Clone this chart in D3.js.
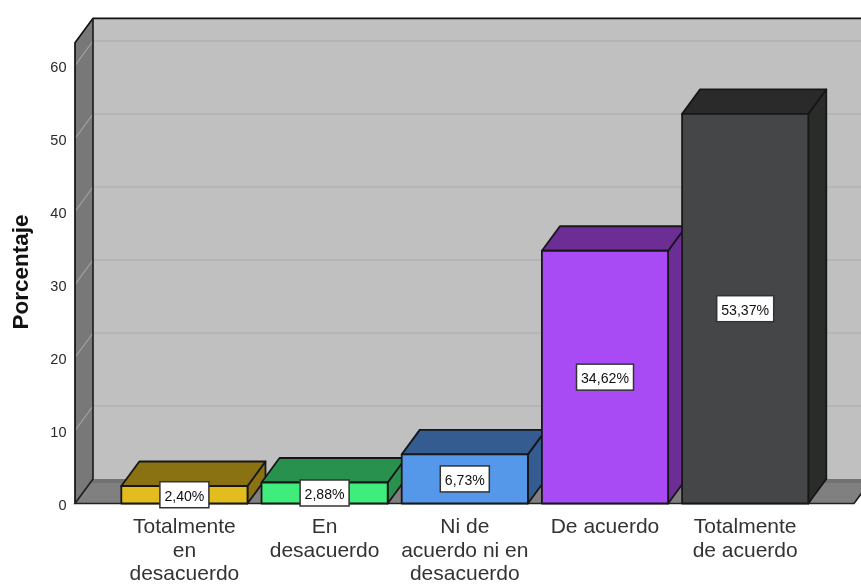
<!DOCTYPE html>
<html><head><meta charset="utf-8">
<style>html,body{margin:0;padding:0;background:#fff}svg{display:block;filter:blur(0.35px)}</style>
<script src="https://cdn.jsdelivr.net/npm/d3@7"></script></head>
<body><svg id="c" width="861" height="584"></svg>
<script>
const categories = [["Totalmente","en","desacuerdo"],["En","desacuerdo"],["Ni de","acuerdo ni en","desacuerdo"],["De acuerdo"],["Totalmente","de acuerdo"]];
const values = [2.40, 2.88, 6.73, 34.62, 53.37];
const valueLabels = ["2,40%","2,88%","6,73%","34,62%","53,37%"];
const tickValues = [0,10,20,30,40,50,60];
const frontColors = ["#e3bd1e","#40ec7c","#5597e8","#a94bf4","#454648"];
const topColors = ["#8a7213","#28914e","#345c90","#6c2d94","#2a2a2a"];
const sideColors = ["#8a7213","#28914e","#345c90","#6c2d94","#2a2c2a"];
const yTitle = "Porcentaje";

const svg = d3.select("#c");
const font = "'Liberation Sans', Arial, sans-serif";
const dx = 18, dy = -24.5;
const x0 = 75, x1 = 854, yMax = 63.1;
const y = d3.scaleLinear().domain([0,60]).range([503.5,65.5]);
const x = d3.scaleBand().domain(d3.range(values.length)).range([114.3,815.3]).paddingInner(0.1).paddingOuter(0.05);
const pts = a => a.map(p=>p.join(",")).join(" ");
const edge = "#17171a";

// back wall
svg.append("polygon").attr("points",pts([[x0+dx,y(yMax)+dy],[x1+dx,y(yMax)+dy],[x1+dx,y(0)+dy],[x0+dx,y(0)+dy]])).attr("fill","#c0c0c0");
// left wall
svg.append("polygon").attr("points",pts([[x0,y(yMax)],[x0+dx,y(yMax)+dy],[x0+dx,y(0)+dy],[x0,y(0)]])).attr("fill","#787878");
// floor
svg.append("polygon").attr("points",pts([[x0,y(0)],[x0+dx,y(0)+dy],[x1+dx,y(0)+dy],[x1,y(0)]])).attr("fill","#808080");
svg.append("polygon").attr("points",pts([[x0+dx,y(0)+dy],[x1+dx,y(0)+dy],[x1+dx-3,y(0)+dy+4],[x0+dx-3,y(0)+dy+4]])).attr("fill","#727272");
// gridlines
tickValues.filter(t=>t>0).forEach(t=>{
  svg.append("line").attr("x1",x0+dx).attr("x2",x1+dx).attr("y1",y(t)+dy).attr("y2",y(t)+dy).attr("stroke","#b5b5b5").attr("stroke-width",2);
  svg.append("line").attr("x1",x0).attr("x2",x0+dx).attr("y1",y(t)).attr("y2",y(t)+dy).attr("stroke","#a3a3a3").attr("stroke-width",1.2);
});
// frame
const frame = svg.append("g").attr("fill","none").attr("stroke","#111").attr("stroke-width",1.7);
frame.append("path").attr("d",`M${x0},${y(0)}L${x0},${y(yMax)}L${x0+dx},${y(yMax)+dy}L${x1+dx},${y(yMax)+dy}`);
frame.append("path").attr("d",`M${x0+dx},${y(yMax)+dy}L${x0+dx},${y(0)+dy}L${x0},${y(0)}L${x1},${y(0)}L${x1+dx},${y(0)+dy}`).attr("stroke","#222");

// bars
values.forEach((v,i)=>{
  const l = x(i), r = l + x.bandwidth(), t = y(v), b = y(0);
  const g = svg.append("g").attr("stroke",edge).attr("stroke-width",1.8).attr("stroke-linejoin","round");
  g.append("polygon").attr("points",pts([[r,t],[r+dx,t+dy],[r+dx,b+dy],[r,b]])).attr("fill",sideColors[i]);
  g.append("polygon").attr("points",pts([[l,t],[l+dx,t+dy],[r+dx,t+dy],[r,t]])).attr("fill",topColors[i]);
  g.append("rect").attr("x",l).attr("y",t).attr("width",x.bandwidth()).attr("height",b-t).attr("fill",frontColors[i]);
});

// value labels
values.forEach((v,i)=>{
  const cx = x(i)+x.bandwidth()/2, cy = (y(v)+y(0))/2;
  const g = svg.append("g");
  const rc = g.append("rect").attr("fill","#fff").attr("stroke","#333").attr("stroke-width",1.5);
  const tx = g.append("text").attr("x",cx).attr("y",cy+6).attr("text-anchor","middle")
    .attr("font-family",font).attr("font-size",15).attr("textLength",valueLabels[i].length*8).attr("lengthAdjust","spacingAndGlyphs").attr("fill","#111").text(valueLabels[i]);
  const w = valueLabels[i].length*8+9;
  rc.attr("x",cx-w/2).attr("y",cy-13).attr("width",w).attr("height",26);
});

// y axis labels
const axis = d3.axisLeft(y).tickValues(tickValues).tickSize(0).tickPadding(8.5);
const ag = svg.append("g").attr("transform",`translate(${x0},1)`).call(axis);
ag.select(".domain").remove();
ag.selectAll("text").attr("font-family",font).attr("font-size",14.5).attr("fill","#2a2a2a");

// category labels
categories.forEach((lines,i)=>{
  const cx = x(i)+x.bandwidth()/2;
  const t = svg.append("text").attr("text-anchor","middle").attr("font-family",font).attr("font-size",21).attr("fill","#333");
  lines.forEach((s,j)=>t.append("tspan").attr("x",cx).attr("y",533+j*23.5).text(s));
});

// y title
svg.append("text").attr("transform","translate(28,272) rotate(-90)").attr("text-anchor","middle")
  .attr("font-family",font).attr("font-weight","bold").attr("font-size",22.5).attr("fill","#111").text(yTitle);
</script></body></html>
